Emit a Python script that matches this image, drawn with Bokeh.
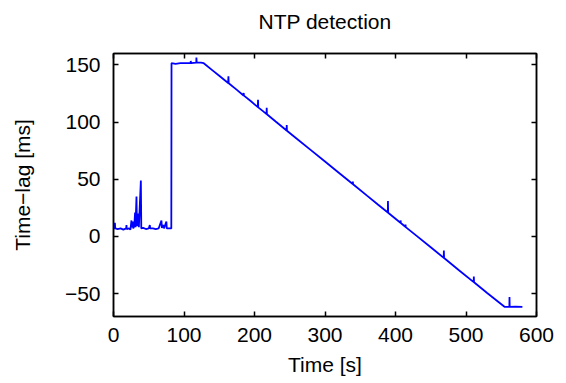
from bokeh.plotting import figure
from bokeh.models import Range1d, FixedTicker, LinearAxis
from bokeh.embed import file_html
from bokeh.resources import INLINE

# ---- data ----
# low phase (before the jump)
low_time = [0, 1.5, 2, 2.5, 6, 10, 14, 18, 18.4, 18.8, 22, 24, 25.5, 26, 27.4, 28,
            29.5, 30.6, 31.2, 32.6, 33.2, 34, 35.4, 36, 38.8, 39.4, 42, 46, 50,
            51.5, 52, 56, 60, 64, 68, 68.6, 71, 71.6, 75, 75.6, 79, 82]
low_lag = [7, 7, 12, 7, 6.5, 7, 6, 7, 10, 6.5, 7, 6, 14, 8, 13, 7,
           9, 21, 8, 35, 9, 12, 20, 8, 49, 7, 7.5, 6.5, 7,
           10, 7, 7, 6.5, 7, 14, 7.5, 10, 7, 13, 7, 7, 7]
# plateau after the step
plateau_time = [82.3, 88, 95, 102, 109.4, 109.6, 110, 117.4, 117.6, 118, 124, 128]
plateau_lag = [151.5, 151, 151.5, 151.5, 151.5, 153.5, 151.5, 152, 156.5, 152, 152, 151.5]
# slow decline
decline_time = [140, 150, 162.6, 163, 163.4, 175, 184.4, 184.7, 185, 195, 204.7, 205,
                205.3, 212, 217.1, 217.3, 217.6, 230, 245.5, 245.7, 246, 260, 280,
                300, 320, 339.3, 339.5, 339.8, 360, 375, 389.1, 389.3, 389.6, 400,
                407, 407.2, 407.5, 414, 414.2, 414.5, 430, 450, 468.4, 468.6, 468.9,
                490, 510.9, 511.1, 511.4, 530, 554.6]
decline_lag = [145.5, 140.5, 134.2, 140, 134, 128.2, 123.3, 125.5, 123.2, 118.2, 113.1,
               119.5, 112.9, 109.6, 107, 112.5, 106.9, 100.5, 92.7, 97.5, 92.5, 85.5,
               75.5, 65.5, 55.5, 45.9, 48, 45.7, 35.5, 28, 21, 31, 20.7, 15.5,
               12, 14, 11.8, 8.5, 10.5, 8.2, 0.5, -9.5, -18.7, -12.2, -18.9,
               -29.5, -39.9, -35, -40.1, -49.5, -61.5]
# final flat tail
tail_time = [561.5, 561.7, 562, 570, 580]
tail_lag = [-61.5, -53, -61.5, -61.3, -61.5]

x_ticks = [0, 100, 200, 300, 400, 500, 600]
y_ticks = [-50, 0, 50, 100, 150]
spacer_ticks = [300]

time_s = low_time + plateau_time + decline_time + tail_time
lag_ms = low_lag + plateau_lag + decline_lag + tail_lag

FONT = "Liberation Sans"
FS = "21px"

p = figure(width=558, height=383, x_range=Range1d(0, 600), y_range=Range1d(-70, 160),
           output_backend="svg", toolbar_location=None, title="NTP detection",
           min_border_left=113, min_border_right=22, min_border_top=53,
           min_border_bottom=67, x_axis_label="Time [s]", y_axis_label="Time\u2212lag [ms]")

p.line(time_s, lag_ms, line_color="#0000ff", line_width=1.8)

p.grid.visible = False
p.outline_line_color = "black"
p.outline_line_width = 1.5
p.background_fill_color = "white"
p.border_fill_color = "white"

p.title.align = "center"
p.title.vertical_align = "bottom"
p.title.text_font = FONT
p.title.text_font_size = FS
p.title.text_font_style = "normal"
p.title.text_color = "black"
p.title.standoff = 10

for ax in (p.xaxis[0], p.yaxis[0]):
    ax.axis_label_text_font = FONT
    ax.axis_label_text_font_size = FS
    ax.axis_label_text_font_style = "normal"
    ax.axis_label_text_color = "black"
    ax.major_label_text_font = FONT
    ax.major_label_text_font_size = FS
    ax.major_label_text_color = "black"
    ax.major_tick_in = 5
    ax.major_tick_out = 0
    ax.minor_tick_line_color = None
    ax.axis_line_width = 1.5
    ax.major_tick_line_width = 1.5
    ax.axis_line_color = "black"
    ax.major_tick_line_color = "black"

p.xaxis[0].ticker = FixedTicker(ticks=x_ticks)
p.yaxis[0].ticker = FixedTicker(ticks=y_ticks)
p.yaxis[0].major_label_overrides = {-50: "\u221250"}
p.xaxis[0].major_label_standoff = 11
p.yaxis[0].major_label_standoff = 13
p.xaxis[0].axis_label_standoff = 8
p.yaxis[0].axis_label_standoff = 28

top = LinearAxis(ticker=FixedTicker(ticks=x_ticks), major_label_text_font_size="1px",
                 major_label_text_color=None, major_label_standoff=0,
                 major_tick_in=5, major_tick_out=0, minor_tick_line_color=None,
                 axis_line_width=1.5, major_tick_line_width=1.5)
right = LinearAxis(ticker=FixedTicker(ticks=y_ticks), major_label_text_font_size="1px",
                   major_label_text_color=None, major_label_standoff=0,
                   major_tick_in=5, major_tick_out=0, minor_tick_line_color=None,
                   axis_line_width=1.5, major_tick_line_width=1.5)
# invisible spacer between the top mirror axis and the title
spacer = LinearAxis(ticker=FixedTicker(ticks=spacer_ticks), major_label_text_font_size="1px",
                    major_label_text_color=None, major_label_standoff=0,
                    major_tick_in=0, major_tick_out=16, minor_tick_line_color=None,
                    major_tick_line_color="white", major_tick_line_alpha=0.01,
                    major_tick_line_width=0.5, axis_line_color=None)
p.add_layout(top, "above")
p.add_layout(spacer, "above")
p.add_layout(right, "right")

open("out.html", "w").write(file_html(p, INLINE))
